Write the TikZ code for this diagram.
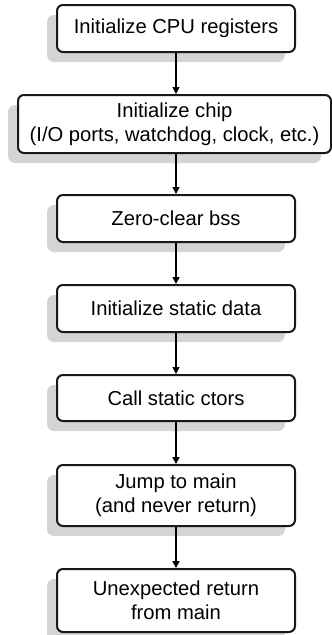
\documentclass[tikz,border=0pt]{standalone}
\usepackage{fontspec}
\setmainfont{Liberation Sans}
\usetikzlibrary{arrows.meta}
\definecolor{shadowgray}{RGB}{211,213,212}
\begin{document}
\begin{tikzpicture}[x=1pt,y=-1pt,
  box/.style={draw=black!90, line width=2pt, rounded corners=6pt, fill=white,
    align=center, inner sep=0pt, font=\fontsize{20.2}{24}\selectfont},
  shadowbox/.style={fill=shadowgray, rounded corners=7pt},
  arr/.style={line width=1.6pt, -{Triangle[width=7pt,length=7pt]}}]
\useasboundingbox (0,0) rectangle (332,635);
% shadows
\foreach \l/\t/\r/\b in {57/5/295/52, 18/95/331/153, 57/195/295/242, 57/285/295/332, 57/375/295/421, 57/465/295/526, 57/569/295/632}
  \fill[shadowgray, rounded corners=7pt] (\l-10,\t+10) rectangle (\r-10,\b+10);
\node[box, minimum width=238pt, minimum height=47pt] (n1) at (176,28.5) {Initialize CPU registers};
\node[box, minimum width=313pt, minimum height=58pt] (n2) at (174.5,124) {Initialize chip\\(I/O ports, watchdog, clock, etc.)};
\node[box, minimum width=238pt, minimum height=47pt] (n3) at (176,218.5) {Zero-clear bss};
\node[box, minimum width=238pt, minimum height=47pt] (n4) at (176,308.5) {Initialize static data};
\node[box, minimum width=238pt, minimum height=46pt] (n5) at (176,398) {Call static ctors};
\node[box, minimum width=238pt, minimum height=61pt] (n6) at (176,495.5) {Jump to main\\(and never return)};
\node[box, minimum width=238pt, minimum height=63pt] (n7) at (176,600.5) {Unexpected return\\from main};
\draw[arr] (n1.south -| 176,0) -- (n2.north -| 176,0);
\draw[arr] (n2.south -| 176,0) -- (n3.north);
\draw[arr] (n3) -- (n4);
\draw[arr] (n4) -- (n5);
\draw[arr] (n5) -- (n6);
\draw[arr] (n6) -- (n7);
\end{tikzpicture}
\end{document}
